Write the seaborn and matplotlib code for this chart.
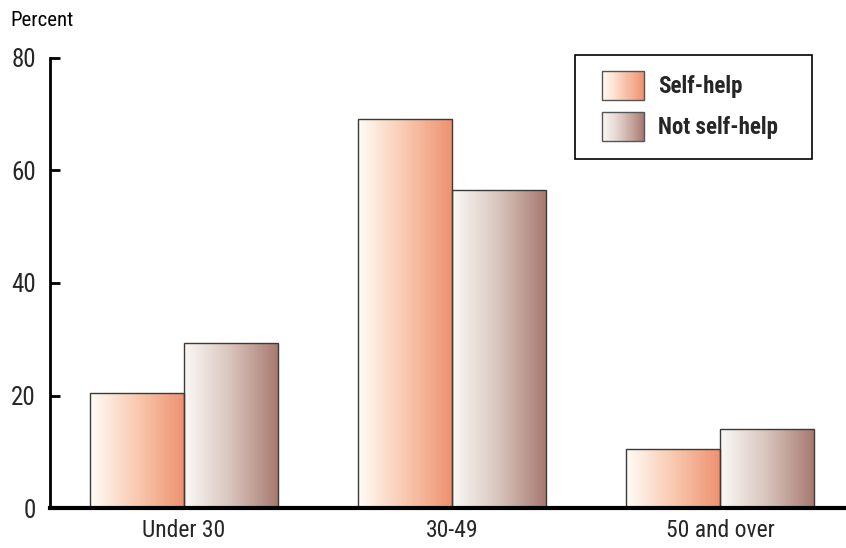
import numpy as np
import pandas as pd
import matplotlib
matplotlib.use("Agg")
import matplotlib.pyplot as plt
import seaborn as sns
from matplotlib.colors import LinearSegmentedColormap
from matplotlib.patches import Rectangle
from matplotlib.legend_handler import HandlerBase

categories = ["Under 30", "30-49", "50 and over"]
series_names = ["Self-help", "Not self-help"]
self_help = [20.4, 69.2, 10.5]
not_self_help = [29.3, 56.5, 14.0]
y_ticks = [0, 20, 40, 60, 80]

grad_colors = {
    "Self-help": ["#fffcf6", "#f9c9b0", "#ee9270"],
    "Not self-help": ["#fbf9f6", "#d8c4bc", "#a87a70"],
}

sns.set_theme(style="white")
plt.rcParams["font.family"] = ["Roboto Condensed", "Archivo Narrow", "DejaVu Sans"]
plt.rcParams["font.stretch"] = "condensed"

df = pd.DataFrame({
    "category": categories * 2,
    "series": [series_names[0]] * 3 + [series_names[1]] * 3,
    "value": self_help + not_self_help,
})

W, H = 846, 548
fig = plt.figure(figsize=(W / 100, H / 100), dpi=100)
ax = fig.add_axes([50 / W, 40 / H, 796 / W, 450 / H])

sns.barplot(data=df, x="category", y="value", hue="series", order=categories,
            hue_order=series_names, width=0.7, ax=ax, legend=False,
            edgecolor="#3a3a3a", linewidth=1.0, saturation=1)

n_cat = len(categories)
for i, patch in enumerate(ax.patches[: 2 * n_cat]):
    s = series_names[i // n_cat]
    cmap = LinearSegmentedColormap.from_list(s, grad_colors[s])
    x0, y0 = patch.get_x(), patch.get_y()
    w, h = patch.get_width(), patch.get_height()
    grad = np.linspace(0, 1, 256).reshape(1, -1)
    im = ax.imshow(grad, cmap=cmap, aspect="auto", extent=[x0, x0 + w, y0, y0 + h],
                   origin="lower", zorder=patch.get_zorder() - 0.1, interpolation="bilinear")
    im.set_clip_path(patch)
    patch.set_facecolor("none")
ax.set_xlim(-0.5, 2.47)
ax.set_ylim(0, 80)


class GradientHandler(HandlerBase):
    def __init__(self, colors):
        super().__init__()
        self.colors = colors

    def create_artists(self, legend, orig_handle, xdescent, ydescent, width, height, fontsize, trans):
        cmap = LinearSegmentedColormap.from_list("g", self.colors)
        n = 40
        arts = []
        for k in range(n):
            r = Rectangle((-xdescent + width * k / n, -ydescent), width / n + 0.3, height,
                          facecolor=cmap(k / (n - 1)), edgecolor="none", transform=trans)
            arts.append(r)
        arts.append(Rectangle((-xdescent, -ydescent), width, height, facecolor="none",
                              edgecolor="#555555", linewidth=1.0, transform=trans))
        return arts


h1 = Rectangle((0, 0), 1, 1)
h2 = Rectangle((0, 0), 1, 1)
leg = fig.legend([h1, h2], series_names,
                 handler_map={h1: GradientHandler(grad_colors["Self-help"]),
                              h2: GradientHandler(grad_colors["Not self-help"])},
                 loc="upper left", bbox_to_anchor=(602 / W, 1 - 71 / H),
                 frameon=False, prop={"weight": "bold", "size": 16.5},
                 handlelength=1.85, handleheight=1.55,
                 labelspacing=0.55, borderpad=0, handletextpad=0.6, borderaxespad=0)
leg.set_zorder(10)
frame = Rectangle((575 / W, 1 - 159 / H), 237 / W, 104 / H, transform=fig.transFigure,
                  facecolor="white", edgecolor="black", linewidth=1.2, zorder=9)
fig.add_artist(frame)

ax.set_xlabel("")
ax.set_ylabel("")
ax.set_yticks(y_ticks)
ax.set_yticklabels([str(t) for t in y_ticks], fontsize=18)
ax.tick_params(axis="y", direction="in", length=7, width=2, color="black", pad=10, left=True)
ax.tick_params(axis="x", length=0, labelsize=17, pad=8)

for side in ["top", "right"]:
    ax.spines[side].set_visible(False)
ax.spines["left"].set_linewidth(2)
ax.spines["left"].set_color("black")
ax.spines["bottom"].set_linewidth(3)
ax.spines["bottom"].set_color("black")
ax.spines["bottom"].set_zorder(5)

fig.text(10 / W, 1 - 20 / H, "Percent", fontsize=15, ha="left", va="center", color="black")

fig.savefig("out.png", dpi=100)
